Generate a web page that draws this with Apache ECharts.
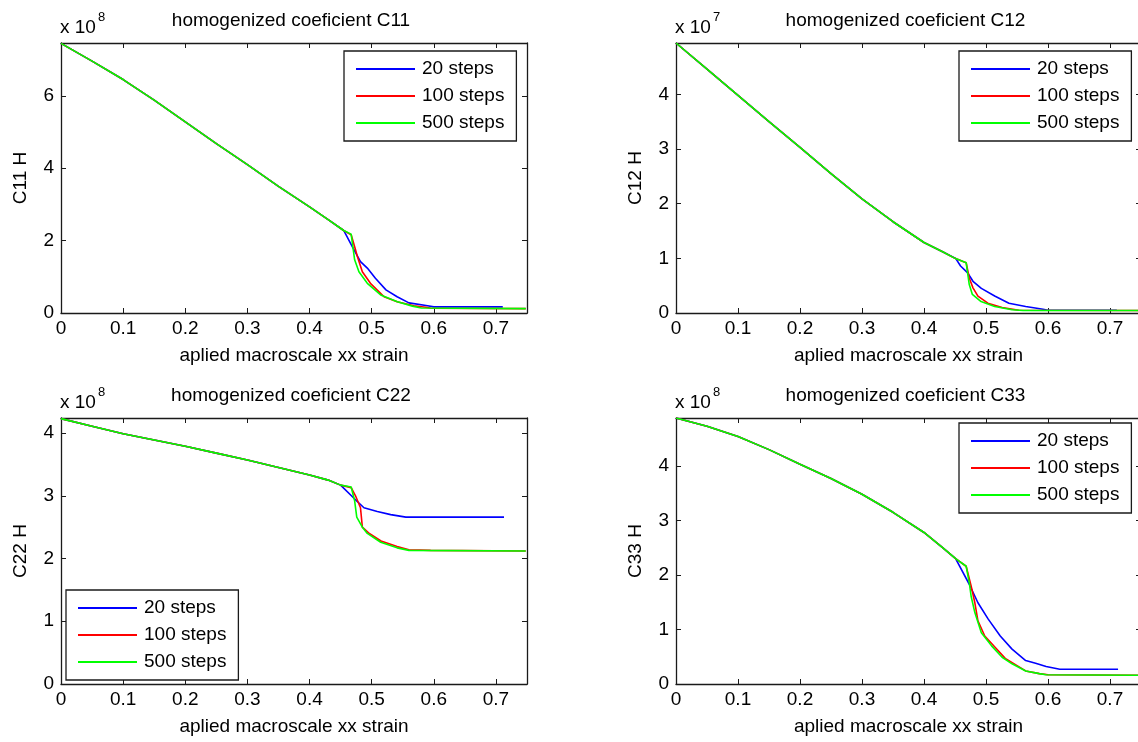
<!DOCTYPE html>
<html>
<head>
<meta charset="utf-8">
<script src="https://cdn.jsdelivr.net/npm/echarts@6/dist/echarts.min.js"></script>
<style>
html,body{margin:0;padding:0;background:#fff;}
#chart{width:1138px;height:742px;}
</style>
</head>
<body>
<div id="chart"></div>
<script>
// ---------- DATA ----------
const SERIES_NAMES = ['20 steps', '100 steps', '500 steps'];
const SERIES_COLORS = ['#0000ff', '#ff0000', '#00ff00'];
const X_TICKS = [0, 0.1, 0.2, 0.3, 0.4, 0.5, 0.6, 0.7];

const TITLES = ['homogenized coeficient C11', 'homogenized coeficient C12',
                'homogenized coeficient C22', 'homogenized coeficient C33'];
const Y_NAMES = ['C11 H', 'C12 H', 'C22 H', 'C33 H'];
const EXPONENTS = ['8', '7', '8', '8'];
const Y_MAX = [7.46, 4.94, 4.24, 4.88];
const Y_INTERVAL = [2, 1, 1, 1];
const X_NAME = 'aplied macroscale xx strain';

// C11 (x 10^8)
const C11_BASE = [[0,7.45],[0.05,6.96],[0.1,6.45],[0.15,5.88],[0.2,5.28],[0.25,4.68],[0.3,4.1],[0.35,3.5],[0.4,2.93],[0.43,2.58]];
const C11_20  = [[0.455,2.28],[0.469,1.83],[0.482,1.42],[0.493,1.24],[0.506,0.96],[0.523,0.64],[0.541,0.45],[0.56,0.28],[0.59,0.2],[0.6,0.17],[0.711,0.17]];
const C11_100 = [[0.455,2.28],[0.467,2.16],[0.474,1.75],[0.477,1.56],[0.485,1.14],[0.498,0.82],[0.52,0.45],[0.541,0.31],[0.568,0.2],[0.59,0.15],[0.595,0.13],[0.748,0.12]];
const C11_500 = [[0.455,2.28],[0.467,2.18],[0.4726,1.47],[0.4795,1.14],[0.493,0.82],[0.5145,0.5],[0.5414,0.31],[0.5656,0.19],[0.58,0.14],[0.748,0.12]];

// C12 (x 10^7)
const C12_BASE = [[0,4.94],[0.05,4.46],[0.1,3.98],[0.15,3.5],[0.2,3.03],[0.25,2.55],[0.3,2.09],[0.35,1.67],[0.4,1.29],[0.43,1.12]];
const C12_20  = [[0.451,1.0],[0.459,0.86],[0.47,0.74],[0.479,0.58],[0.4925,0.45],[0.514,0.31],[0.537,0.18],[0.564,0.12],[0.592,0.07],[0.6,0.05],[0.711,0.05]];
const C12_100 = [[0.45,1.0],[0.468,0.92],[0.473,0.64],[0.479,0.46],[0.487,0.31],[0.503,0.18],[0.526,0.1],[0.553,0.05],[0.748,0.045]];
const C12_500 = [[0.45,1.0],[0.468,0.92],[0.473,0.52],[0.478,0.34],[0.492,0.21],[0.514,0.12],[0.542,0.06],[0.56,0.045],[0.748,0.045]];

// C22 (x 10^8)
const C22_BASE = [[0,4.23],[0.05,4.11],[0.1,3.99],[0.15,3.89],[0.2,3.79],[0.25,3.68],[0.3,3.57],[0.35,3.45],[0.4,3.33],[0.43,3.25]];
const C22_20  = [[0.45,3.17],[0.4715,2.96],[0.4876,2.81],[0.509,2.75],[0.5306,2.7],[0.555,2.66],[0.713,2.66]];
const C22_100 = [[0.45,3.17],[0.467,3.13],[0.474,3.0],[0.482,2.81],[0.485,2.5],[0.495,2.41],[0.515,2.28],[0.541,2.19],[0.56,2.14],[0.595,2.13],[0.748,2.12]];
const C22_500 = [[0.45,3.17],[0.467,3.14],[0.4726,2.92],[0.476,2.66],[0.485,2.5],[0.493,2.4],[0.5145,2.26],[0.541,2.17],[0.56,2.13],[0.748,2.12]];

// C33 (x 10^8)
const C33_BASE = [[0,4.88],[0.05,4.73],[0.1,4.54],[0.15,4.3],[0.2,4.03],[0.25,3.77],[0.3,3.48],[0.35,3.15],[0.4,2.78],[0.43,2.5]];
const C33_20  = [[0.451,2.3],[0.473,1.83],[0.487,1.49],[0.5036,1.19],[0.523,0.88],[0.542,0.64],[0.564,0.43],[0.58,0.38],[0.597,0.32],[0.619,0.27],[0.713,0.27]];
const C33_100 = [[0.451,2.3],[0.468,2.16],[0.476,1.8],[0.482,1.49],[0.487,1.16],[0.498,0.88],[0.515,0.67],[0.531,0.47],[0.564,0.24],[0.586,0.19],[0.6,0.17],[0.748,0.16]];
const C33_500 = [[0.451,2.3],[0.468,2.16],[0.473,1.86],[0.476,1.61],[0.482,1.31],[0.4925,0.94],[0.509,0.7],[0.526,0.49],[0.542,0.37],[0.564,0.24],[0.586,0.19],[0.597,0.17],[0.748,0.16]];

const PANELS = [
  [C11_BASE.concat(C11_20), C11_BASE.concat(C11_100), C11_BASE.concat(C11_500)],
  [C12_BASE.concat(C12_20), C12_BASE.concat(C12_100), C12_BASE.concat(C12_500)],
  [C22_BASE.concat(C22_20), C22_BASE.concat(C22_100), C22_BASE.concat(C22_500)],
  [C33_BASE.concat(C33_20), C33_BASE.concat(C33_100), C33_BASE.concat(C33_500)]
];

// ---------- LAYOUT ----------
const FONT = '"Liberation Sans", Arial, Helvetica, sans-serif';
const GRIDS = [
  {left: 61,  top: 43,  width: 466, height: 270},
  {left: 676, top: 43,  width: 465, height: 270},
  {left: 61,  top: 418, width: 466, height: 266},
  {left: 676, top: 418, width: 465, height: 266}
];
const LEGEND_POS = [
  {left: 344, top: 51},
  {left: 959, top: 51},
  {left: 66,  top: 590},
  {left: 959, top: 423}
];

const AX_COLOR = '#1a1a1a';
const grid = [], xAxis = [], yAxis = [], series = [], legend = [], graphic = [];

GRIDS.forEach((g, i) => {
  grid.push(Object.assign({containLabel: false, outerBoundsMode: 'none'}, g));
  const common = {
    gridIndex: i, type: 'value', min: 0,
    axisLine: {show: true, onZero: false, lineStyle: {color: AX_COLOR, width: 1.3}},
    axisTick: {show: true, inside: true, length: 5, lineStyle: {color: AX_COLOR, width: 1}},
    splitLine: {show: false}
  };
  xAxis.push(Object.assign({}, common, {
    position: 'bottom', max: 0.75, interval: 0.1,
    axisLabel: {show: true, margin: 6, color: '#000', fontSize: 19, fontFamily: FONT,
      showMaxLabel: false,
      formatter: v => (X_TICKS.some(t => Math.abs(t - v) < 1e-9) ? String(Math.round(v * 10) / 10) : '')},
    name: X_NAME, nameLocation: 'middle', nameGap: 33,
    nameTextStyle: {color: '#000', fontSize: 19, fontFamily: FONT}
  }));
  xAxis.push(Object.assign({}, common, {
    position: 'top', max: 0.75, interval: 0.1, axisLabel: {show: false}
  }));
  yAxis.push(Object.assign({}, common, {
    position: 'left', max: Y_MAX[i], interval: Y_INTERVAL[i],
    axisLabel: {show: true, margin: 7, color: '#000', fontSize: 19, fontFamily: FONT, showMaxLabel: false},
    name: Y_NAMES[i], nameLocation: 'middle', nameGap: 31, nameRotate: 90,
    nameTextStyle: {color: '#000', fontSize: 19, fontFamily: FONT}
  }));
  yAxis.push(Object.assign({}, common, {
    position: 'right', max: Y_MAX[i], interval: Y_INTERVAL[i], axisLabel: {show: false}
  }));

  PANELS[i].forEach((d, k) => {
    series.push({
      type: 'line', name: SERIES_NAMES[k], xAxisIndex: 2 * i, yAxisIndex: 2 * i,
      data: d, showSymbol: false, symbol: 'none', smooth: false,
      lineStyle: {color: SERIES_COLORS[k], width: 1.6},
      itemStyle: {color: SERIES_COLORS[k]},
      z: 2 + k, animation: false, clip: true
    });
  });

  legend.push({
    left: LEGEND_POS[i].left, top: LEGEND_POS[i].top, orient: 'vertical',
    data: SERIES_NAMES, icon: 'rect', itemWidth: 59, itemHeight: 2, itemGap: 7,
    padding: [8, 12, 8, 12], backgroundColor: '#fff', borderColor: '#1a1a1a', borderWidth: 1.3,
    selectedMode: false,
    textStyle: {color: '#000', fontSize: 19, fontFamily: FONT, lineHeight: 20, padding: [0, 0, 0, 2]}
  });

  // title
  graphic.push({
    type: 'text', x: g.left + g.width / 2 - 3, y: g.top - 22,
    style: {text: TITLES[i], fill: '#000', font: '19px ' + FONT, textAlign: 'center', textVerticalAlign: 'middle'}
  });
  // exponent label
  graphic.push({
    type: 'text', x: g.left - 1, y: g.top - 6,
    style: {text: 'x 10', fill: '#000', font: '19px ' + FONT, textAlign: 'left', textVerticalAlign: 'bottom'}
  });
  graphic.push({
    type: 'text', x: g.left + 37, y: g.top - 19,
    style: {text: EXPONENTS[i], fill: '#000', font: '13px ' + FONT, textAlign: 'left', textVerticalAlign: 'bottom'}
  });
});

const chart = echarts.init(document.getElementById('chart'), null, {renderer: 'canvas'});
chart.setOption({
  backgroundColor: '#fff',
  animation: false,
  grid, xAxis, yAxis, series, legend, graphic
});
</script>
</body>
</html>
